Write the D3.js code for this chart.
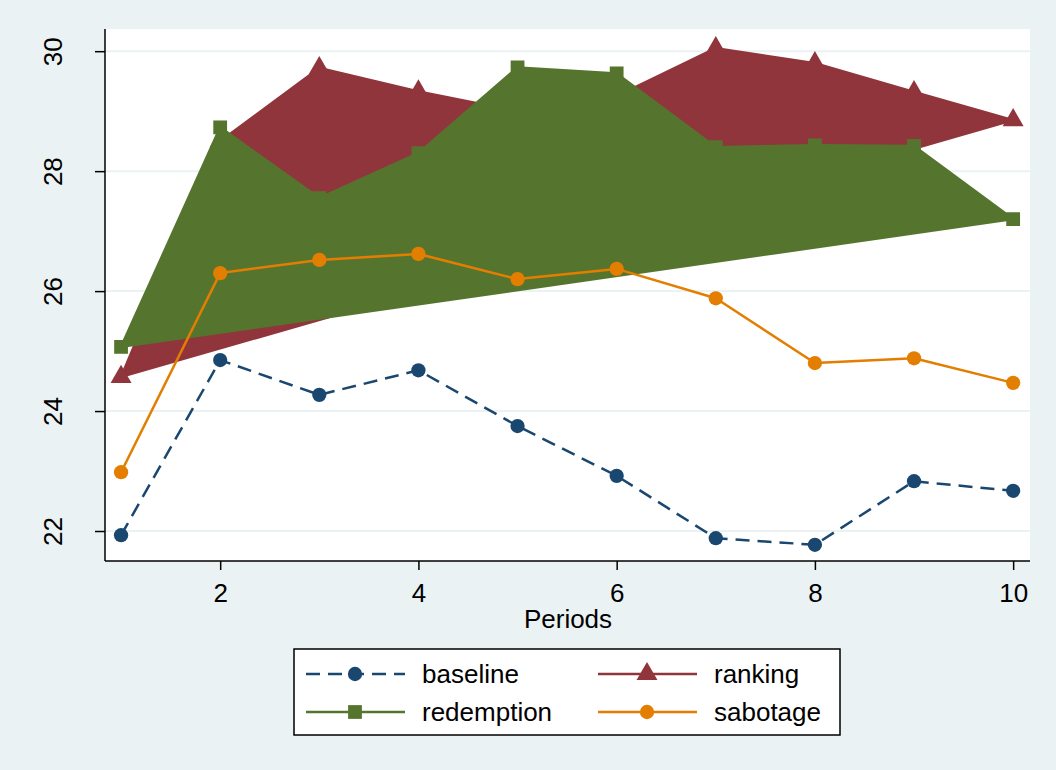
<!DOCTYPE html>
<html lang="en">
  <head>
    <meta charset="utf-8">
    <title>Periods</title>
    <style>
      body { margin: 0; background: #eaf2f3; }
      svg text { font-family: "Liberation Sans", Arial, sans-serif; }
    </style>
    <script src="https://d3js.org/d3.v7.min.js"></script>
  </head>
  <body>
    <div id="viz"></div>
    <script>

    var periods = [1, 2, 3, 4, 5, 6, 7, 8, 9, 10];
    var baseline   = [21.93, 24.85, 24.27, 24.68, 23.75, 22.92, 21.88, 21.77, 22.83, 22.67];
    var ranking    = [24.57, 28.50, 29.72, 29.33, 29.00, 29.25, 30.05, 29.80, 29.32, 28.85];
    var redemption = [25.07, 28.73, 27.55, 28.30, 29.73, 29.63, 28.40, 28.43, 28.42, 27.20];
    var sabotage   = [22.98, 26.30, 26.52, 26.62, 26.20, 26.37, 25.88, 24.80, 24.88, 24.47];
    var yTicks = [22, 24, 26, 28, 30];
    var xTicks = [2, 4, 6, 8, 10];

    var W = 1056, H = 770;
    var pLeft = 105, pRight = 1030, pTop = 29, pBottom = 561;

    var svg = d3.select('#viz').append('svg')
        .attr('width', W).attr('height', H);

    svg.append('rect').attr('width', W).attr('height', H).attr('fill', '#eaf2f3');
    svg.append('rect')
        .attr('x', pLeft).attr('y', pTop)
        .attr('width', pRight - pLeft).attr('height', pBottom - pTop)
        .attr('fill', '#ffffff');

    var x = d3.scaleLinear().domain([0.838, 10.17]).range([pLeft, pRight]);
    var y = d3.scaleLinear().domain([21.5, 30.37]).range([pBottom, pTop]);

    // grid
    svg.append('g').selectAll('line')
        .data(yTicks).enter().append('line')
          .attr('x1', pLeft).attr('x2', pRight)
          .attr('y1', function(d) { return y(d); })
          .attr('y2', function(d) { return y(d); })
          .attr('stroke', '#eaf2f3').attr('stroke-width', 2);

    var series = [
      { name: 'baseline',   vals: baseline,   color: '#1a476f', shape: 'circle', dash: '14,8', fill: false },
      { name: 'ranking',    vals: ranking,    color: '#90353b', shape: 'triangle', dash: null, fill: true },
      { name: 'redemption', vals: redemption, color: '#55752f', shape: 'square', dash: null, fill: true },
      { name: 'sabotage',   vals: sabotage,   color: '#e37e00', shape: 'circle', dash: null, fill: false }
    ];

    var symbols = {
      circle: d3.symbol().type(d3.symbolCircle).size(160),
      square: d3.symbol().type(d3.symbolSquare).size(190),
      triangle: d3.symbol().type(d3.symbolTriangle).size(190)
    };

    var line = d3.line()
        .x(function(d) { return x(d[0]); })
        .y(function(d) { return y(d[1]); });

    series.forEach(function(s) {
      var pts = periods.map(function(p, i) { return [p, s.vals[i]]; });
      var g = svg.append('g');
      g.append('path')
          .attr('d', line(pts) + (s.fill ? 'Z' : ''))
          .attr('fill', s.fill ? s.color : 'none')
          .attr('stroke', s.color)
          .attr('stroke-width', 2.5)
          .attr('stroke-linejoin', 'round')
          .attr('stroke-dasharray', s.dash);
      g.selectAll('path.m')
          .data(pts).enter().append('path')
            .attr('class', 'm')
            .attr('d', symbols[s.shape])
            .attr('transform', function(d) { return 'translate(' + x(d[0]) + ',' + y(d[1]) + ')'; })
            .attr('fill', s.color);
    });

    // axes
    var yAxis = svg.append('g')
        .attr('transform', 'translate(' + pLeft + ',0)')
        .call(d3.axisLeft(y).tickValues(yTicks).tickSize(10).tickFormat(d3.format('d')));
    yAxis.select('.domain').attr('d', 'M0,' + pTop + 'V' + pBottom).attr('stroke', '#000').attr('stroke-width', 1.5);
    yAxis.selectAll('.tick line').attr('stroke', '#000').attr('stroke-width', 1.5);
    yAxis.selectAll('.tick text')
        .attr('font-size', 26).attr('fill', '#000')
        .attr('x', 0).attr('y', 0).attr('dy', null)
        .attr('text-anchor', 'middle')
        .attr('transform', 'translate(-43,0) rotate(-90)');

    var xAxis = svg.append('g')
        .attr('transform', 'translate(0,' + pBottom + ')')
        .call(d3.axisBottom(x).tickValues(xTicks).tickSize(9).tickPadding(0).tickFormat(d3.format('d')));
    xAxis.select('.domain').attr('d', 'M' + pLeft + ',0H' + pRight).attr('stroke', '#000').attr('stroke-width', 1.5);
    xAxis.selectAll('.tick line').attr('stroke', '#000').attr('stroke-width', 1.5);
    xAxis.selectAll('.tick text')
        .attr('font-size', 26).attr('fill', '#000')
        .attr('y', 41).attr('dy', null);

    svg.append('text')
        .attr('x', 568).attr('y', 628)
        .attr('text-anchor', 'middle')
        .attr('font-size', 26)
        .text('Periods');

    // legend
    var leg = svg.append('g');
    leg.append('rect')
        .attr('x', 294).attr('y', 649).attr('width', 546).attr('height', 86)
        .attr('fill', '#ffffff').attr('stroke', '#000').attr('stroke-width', 1.5);
    var legPos = [[306, 674], [598, 674], [306, 712], [598, 712]];
    series.forEach(function(s, i) {
      var p = legPos[i];
      leg.append('line')
          .attr('x1', p[0]).attr('x2', p[0] + 99)
          .attr('y1', p[1]).attr('y2', p[1])
          .attr('stroke', s.color).attr('stroke-width', 2.5)
          .attr('stroke-dasharray', s.dash);
      leg.append('path')
          .attr('d', symbols[s.shape])
          .attr('transform', 'translate(' + (p[0] + 49) + ',' + p[1] + ')')
          .attr('fill', s.color);
      leg.append('text')
          .attr('x', p[0] + 116).attr('y', p[1] + 9)
          .attr('font-size', 26)
          .text(s.name);
    });

    </script>
  </body>
</html>
